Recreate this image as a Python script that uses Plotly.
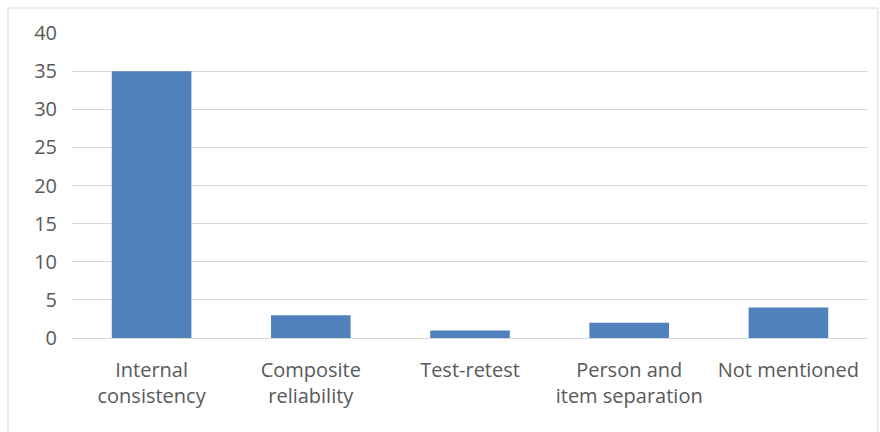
import plotly.graph_objects as go

categories = ["Internal<br>consistency", "Composite<br>reliability", "Test-retest",
              "Person and<br>item separation", "Not mentioned"]
values = [35, 3, 1, 2, 4]
y_ticks = [0, 5, 10, 15, 20, 25, 30, 35, 40]

fig = go.Figure(go.Bar(x=categories, y=values, marker_color="#4F81BD",
                       marker_line_width=0))

W, H = 880, 432
ml, mr, mt, mb = 72, 12, 33, 94
pw, ph = W - ml - mr, H - mt - mb

fig.update_layout(
    width=W, height=H,
    margin=dict(l=ml, r=mr, t=mt, b=mb),
    paper_bgcolor="white", plot_bgcolor="white",
    bargap=0.5,
    showlegend=False,
    font=dict(family="Open Sans", size=20, color="#595959"),
    xaxis=dict(showgrid=False, showline=False, ticks="", ticklabelstandoff=18,
               tickfont=dict(size=20)),
    yaxis=dict(range=[0, 40], tickvals=y_ticks, showgrid=True, gridcolor="#D9D9D9",
               gridwidth=1, zeroline=True, zerolinecolor="#D9D9D9", zerolinewidth=1,
               showline=False, ticks="", ticklabelstandoff=14, tickfont=dict(size=20)),
    shapes=[dict(type="rect", xref="paper", yref="paper",
                 x0=(8 - ml) / pw, x1=(878 - ml) / pw,
                 y0=-0.4, y1=(H - mb - 8) / ph,
                 line=dict(color="#D9D9D9", width=1), fillcolor="rgba(0,0,0,0)",
                 layer="below")],
)

fig.write_html("out.html")
